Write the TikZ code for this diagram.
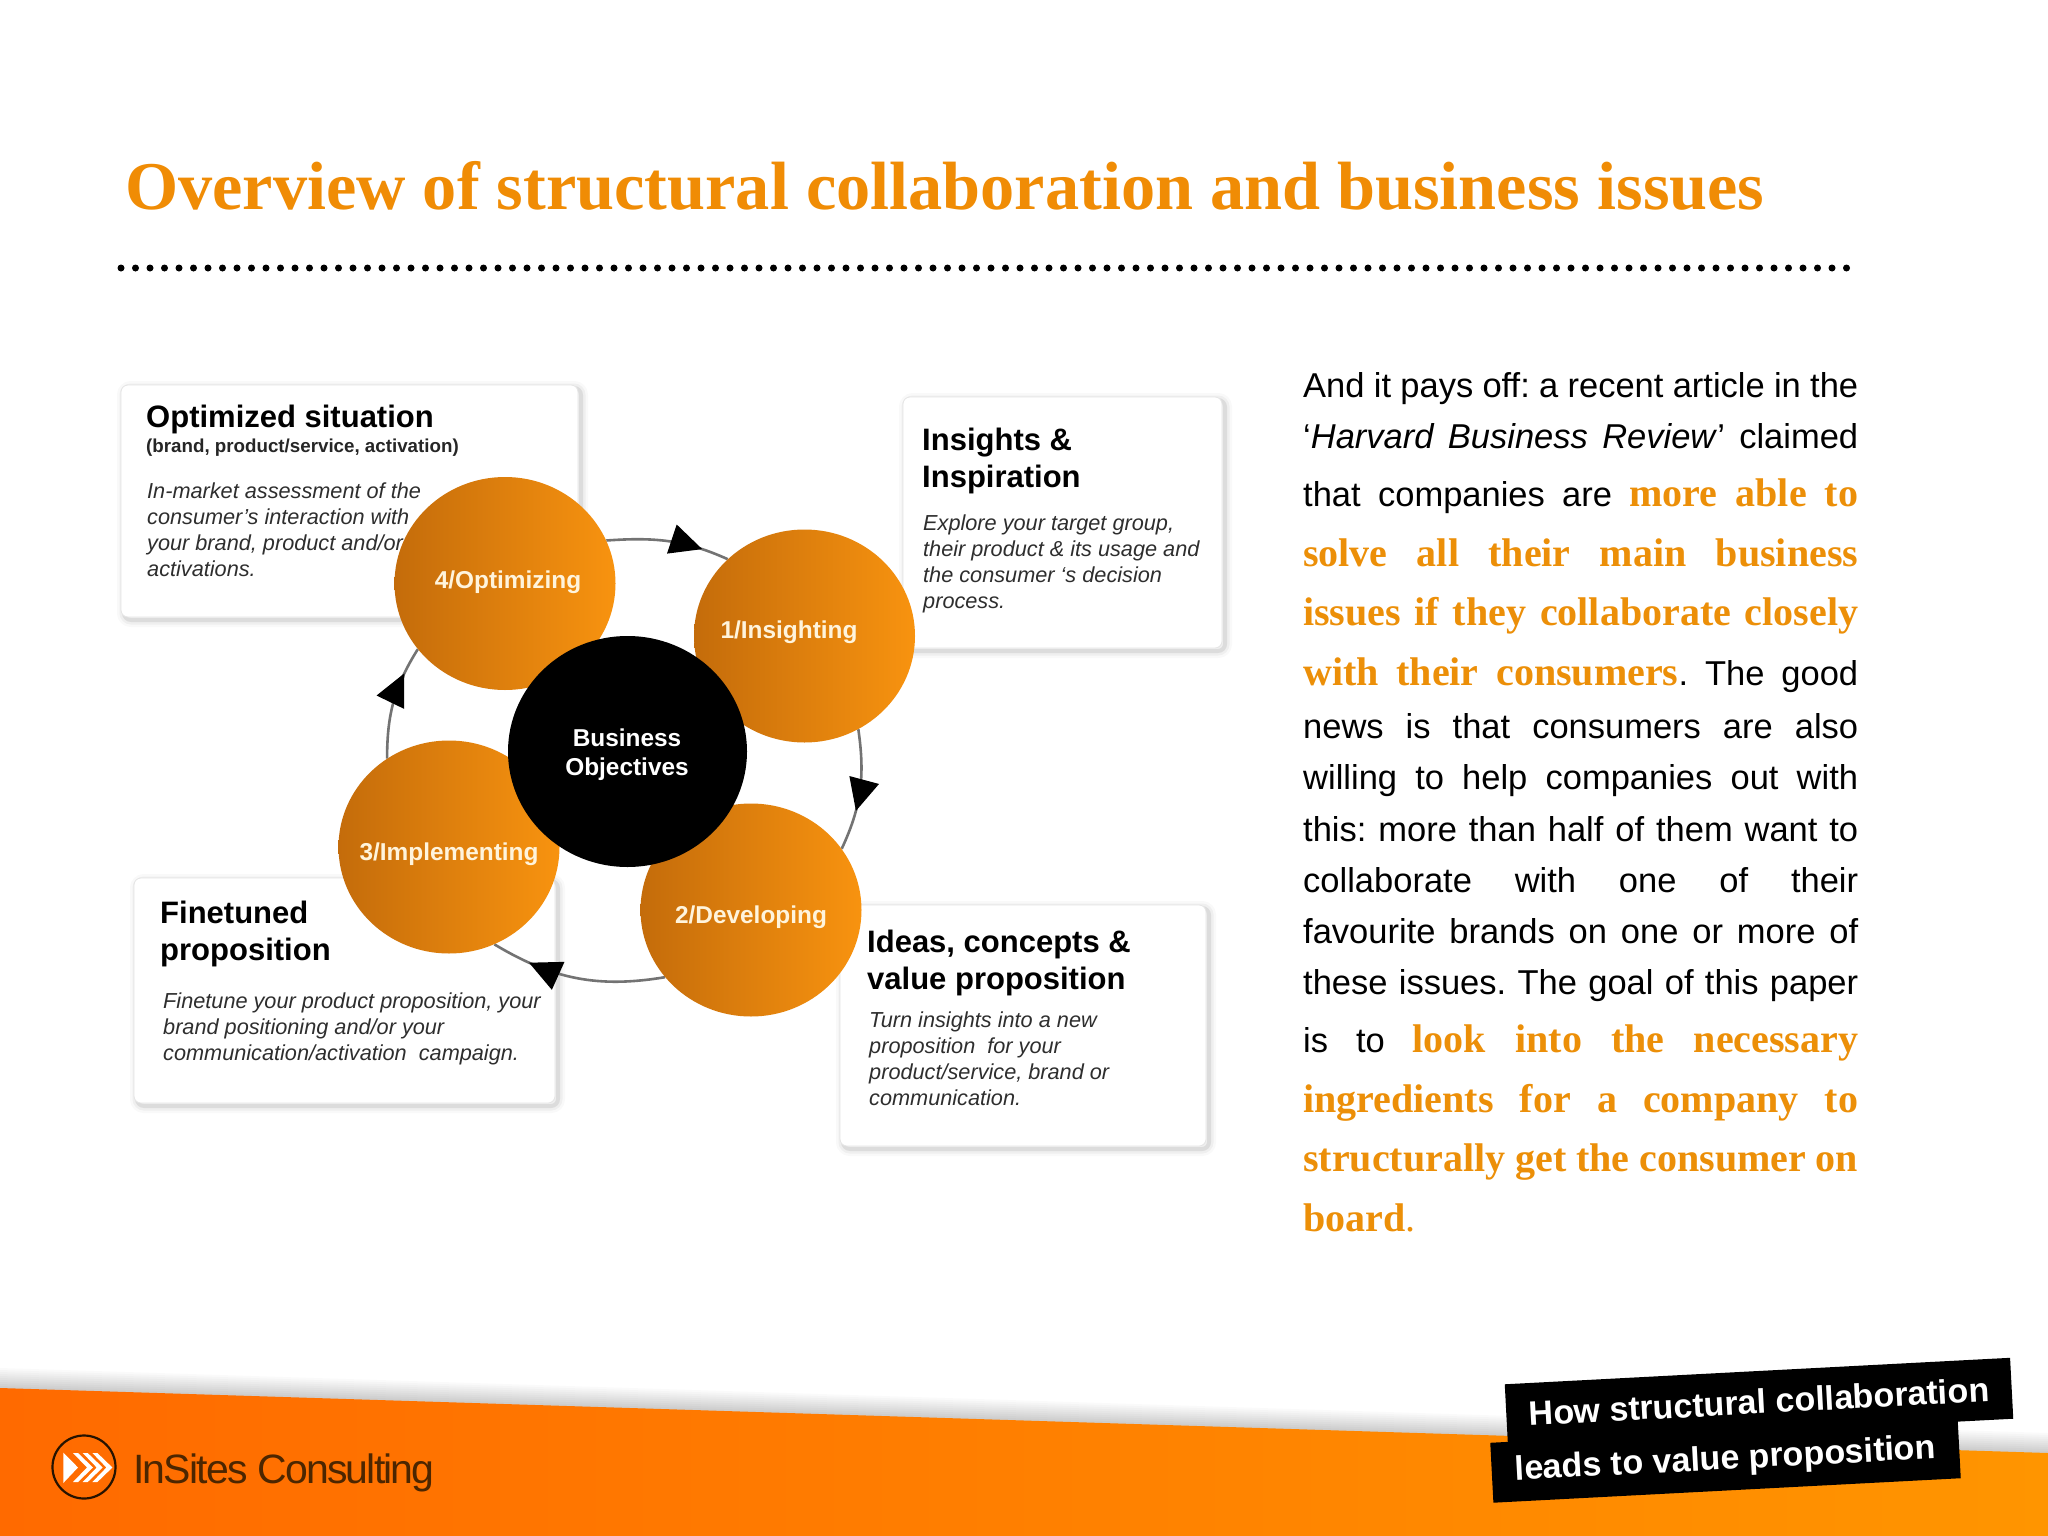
\documentclass[tikz,border=0pt]{standalone}
\usepackage{fontspec}
\setmainfont{Liberation Sans}
\newfontfamily\timesf{Liberation Serif}
\usetikzlibrary{shapes.geometric,shadows,decorations.markings,arrows.meta}
\pgfdeclarelayer{back}\pgfdeclarelayer{ring}
\pgfsetlayers{back,ring,main}
\definecolor{orangeT}{HTML}{F08C05}
\definecolor{orangeB}{HTML}{EC8F08}
\definecolor{creamT}{HTML}{FFF4DC}
\definecolor{bodyG}{HTML}{2E2E2E}
\definecolor{orangeD}{HTML}{C46C0B}
\definecolor{orangeM}{HTML}{E1800D}
\definecolor{orangeL}{HTML}{F8930F}
\definecolor{bandL}{HTML}{FF6A00}
\definecolor{bandR}{HTML}{FF9500}
\newcommand{\stacked}[1]{\begin{tabular}[t]{@{}l@{}}#1\end{tabular}}
\newcommand{\orb}[1]{{\timesf\bfseries\fontsize{40}{40}\selectfont\color{orangeB}#1}}
\tikzset{
  softshadow/.style={
    general shadow={draw=black,line width=14,opacity=.025,shadow xshift=3pt,shadow yshift=-3pt},
    general shadow={draw=black,line width=9,opacity=.04,shadow xshift=3pt,shadow yshift=-3pt},
    general shadow={draw=black,line width=4,opacity=.08,shadow xshift=3pt,shadow yshift=-3pt}},
  cardbox/.style={rectangle,rounded corners=7,fill=white,draw=black!10,line width=.8,inner sep=0,softshadow},
  headtxt/.style={anchor=base west,inner sep=0,font=\bfseries\fontsize{31}{37}\selectfont},
  subtxt/.style={anchor=base west,inner sep=0,font=\bfseries\fontsize{18.75}{24}\selectfont,text=black!85},
  cardtxt/.style={anchor=base west,inner sep=0,font=\itshape\fontsize{21.7}{26}\selectfont,text=bodyG},
  orbshape/.style={ellipse,inner sep=0,minimum width=221,minimum height=213,
    left color=orangeD,middle color=orangeM,right color=orangeL},
  orbtxt/.style={anchor=base,inner sep=0,font=\bfseries\fontsize{24.4}{29}\selectfont,text=creamT},
  bodyl/.style={anchor=base west,inner sep=0,font=\frenchspacing\fontsize{34.5}{34.5}\selectfont},
  ringarc/.style={draw=black!55,line width=2.6,postaction={decorate},
    decoration={markings,mark=at position #1 with {\arrow{Triangle[length=32pt,width=30pt,color=black]}}}},
  stripe/.style={rectangle,rotate=3,fill=black,text=white,inner sep=0,
    font=\bfseries\fontsize{34}{34}\selectfont},
}
\begin{document}
\begin{tikzpicture}[x=1pt,y=-1pt]
\useasboundingbox (0,0) rectangle (2048,1536);

% title + dotted rule
\node[anchor=base west,inner sep=0,text=orangeT,font=\timesf\bfseries\fontsize{68.3}{68}\selectfont] (title) at (125,209)
  {Overview of structural collaboration and business issues};
\coordinate (ruleA) at (121,268);
\coordinate (ruleB) at (1852,268);
\draw[line width=7,line cap=round,dash pattern=on 0pt off 14.5pt] (ruleA) -- (ruleB);

% cards
\begin{pgfonlayer}{back}
\fill[white] (0,0) rectangle (2048,1536);
\node[cardbox,minimum width=457,minimum height=232] (b1) at (349.5,501) {};
\node[cardbox,minimum width=319,minimum height=251] (b2) at (1062.5,522.5) {};
\node[cardbox,minimum width=421,minimum height=225] (b3) at (344.5,990.5) {};
\node[cardbox,minimum width=366,minimum height=241] (b4) at (1023,1025.5) {};

\node[headtxt] (h1) at (146,427) {Optimized situation};
\node[subtxt] (s1) at (146,452) {(brand, product/service, activation)};
\node[cardtxt] (t1) at (147,498) {\stacked{In-market assessment of the\\consumer’s interaction with\\your brand, product and/or\\activations.}};

\node[headtxt] (h2) at (922,450) {\stacked{Insights \&\\Inspiration}};
\node[cardtxt] (t2) at (923,530) {\stacked{Explore your target group,\\their product \& its usage and\\the consumer ‘s decision\\process.}};

\node[headtxt] (h3) at (160,923) {\stacked{Finetuned\\proposition}};
\node[cardtxt] (t3) at (163,1008) {\stacked{Finetune your product proposition, your\\brand positioning and/or your\\communication/activation\ \ campaign.}};

\node[headtxt] (h4) at (867,952) {\stacked{Ideas, concepts \&\\value proposition}};
\node[cardtxt] (t4) at (869,1027) {\stacked{Turn insights into a new\\proposition\ \ for your\\product/service, brand or\\communication.}};
\end{pgfonlayer}

% circles
\node[orbshape] (c4) at (505,583.5) {};
\node[orbshape] (c1) at (804.5,636) {};
\node[orbshape] (c3) at (449,847) {};
\node[orbshape] (c2) at (751,910) {};
\node[ellipse,fill=black,inner sep=0,minimum width=239,minimum height=231] (core) at (627.5,751.5) {};

\node[orbtxt] (l4) at (508,588) {4/Optimizing};
\node[orbtxt] (l1) at (789,638) {1/Insighting};
\node[orbtxt] (l2) at (751,923) {2/Developing};
\node[orbtxt] (l3) at (449,860) {3/Implementing};
\node[orbtxt,text=white] (lc) at (627,746) {\begin{tabular}[t]{@{}c@{}}Business\\Objectives\end{tabular}};

% ring arcs
\begin{pgfonlayer}{ring}
\draw[ringarc=.78] (c4.23) to[out=4,in=155.7] (c1.135);
\draw[ringarc=.67] (c1.-60) to[out=-81.8,in=65] (c2.34);
\draw[ringarc=.78] (c2.218) to[out=189.5,in=-31] (c3.-65.6);
\draw[ringarc=.76] (c3.125.7) to[out=90,in=238] (c4.217.4);
\end{pgfonlayer}

% body text
\node[bodyl] (p1) at (1303,397) {\makebox[555pt][s]{And it pays off: a recent article in the}};
\node[bodyl] (p2) at (1303,448) {\makebox[555pt][s]{‘\textit{Harvard Business Review}’ claimed}};
\node[bodyl] (p3) at (1303,506) {\makebox[555pt][s]{that companies are \orb{more able to}}};
\node[bodyl] (p4) at (1303,566) {\makebox[555pt][s]{\orb{solve all their main business}}};
\node[bodyl] (p5) at (1303,625) {\makebox[555pt][s]{\orb{issues if they collaborate closely}}};
\node[bodyl] (p6) at (1303,685) {\makebox[555pt][s]{\orb{with their consumers}. The good}};
\node[bodyl] (p7) at (1303,738) {\makebox[555pt][s]{news is that consumers are also}};
\node[bodyl] (p8) at (1303,789) {\makebox[555pt][s]{willing to help companies out with}};
\node[bodyl] (p9) at (1303,841) {\makebox[555pt][s]{this: more than half of them want to}};
\node[bodyl] (p10) at (1303,892) {\makebox[555pt][s]{collaborate with one of their}};
\node[bodyl] (p11) at (1303,943) {\makebox[555pt][s]{favourite brands on one or more of}};
\node[bodyl] (p12) at (1303,994) {\makebox[555pt][s]{these issues. The goal of this paper}};
\node[bodyl] (p13) at (1303,1052) {\makebox[555pt][s]{is to \orb{look into the necessary}}};
\node[bodyl] (p14) at (1303,1112) {\makebox[555pt][s]{\orb{ingredients for a company to}}};
\node[bodyl] (p15) at (1303,1171) {\makebox[555pt][s]{\orb{structurally get the consumer on}}};
\node[bodyl] (p16) at (1303,1231) {\orb{board}{\timesf\fontsize{40}{40}\selectfont\color{orangeB}.}};

% footer band
\foreach \o in {2,4,...,20}
  \fill[black,opacity=.02] (0,1388-\o) -- (2048,1453-\o) -- (2048,1536) -- (0,1536) -- cycle;
\path[left color=bandL,right color=bandR] (0,1388) -- (2048,1453) -- (2048,1536) -- (0,1536) -- cycle;

% logo
\node[circle,draw=black!85!orange,line width=2.2,minimum size=63,inner sep=0] (logo) at (84,1467) {};
\fill[white] (63.3,1452.7) -- (78,1467.5) -- (63.3,1483) -- cycle;
\foreach \k in {0,9.7,19.4}
  \fill[white] (73+\k,1453) -- (78+\k,1453) -- (93+\k,1467.5) -- (78+\k,1482) -- (73+\k,1482) -- (87+\k,1467.5) -- cycle;
\node[anchor=base west,inner sep=0,text=black!70!orange,font=\addfontfeature{LetterSpace=-4.4}\fontsize{41}{41}\selectfont] (brand) at (133,1483) {InSites Consulting};

% stripes
\node[stripe,minimum width=468,minimum height=60] (s2) at (1725.5,1460.5) {leads to value proposition};
\node[stripe,minimum width=506,minimum height=61] (s1b) at (1759,1401.5) {How structural collaboration};
\end{tikzpicture}
\end{document}
